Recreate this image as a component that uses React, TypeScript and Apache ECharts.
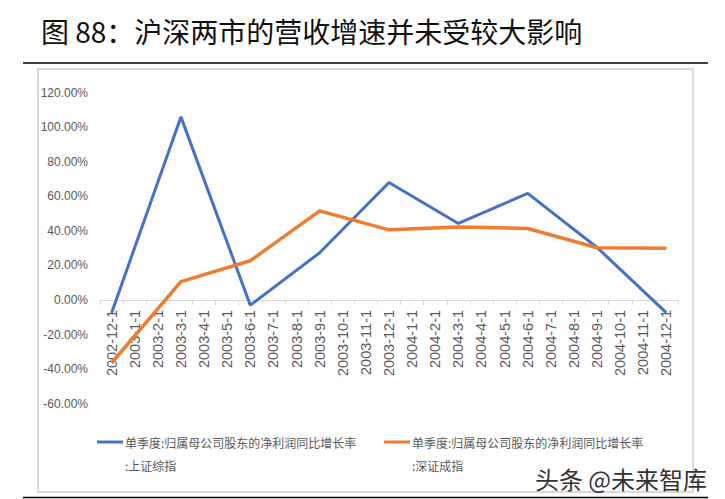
import React, { useEffect, useRef } from "react";
import * as echarts from "echarts";

const TITLE = "图 88：沪深两市的营收增速并未受较大影响";
const SERIES_NAMES = [
  "单季度:归属母公司股东的净利润同比增长率:上证综指",
  "单季度:归属母公司股东的净利润同比增长率:深证成指",
];
const LEGEND_LINE1 = "单季度:归属母公司股东的净利润同比增长率";
const LEGEND_LINE2 = [":上证综指", ":深证成指"];
const WATERMARK = "头条 @未来智库";

const categories = [
  "2002-12-1", "2003-1-1", "2003-2-1", "2003-3-1", "2003-4-1", "2003-5-1",
  "2003-6-1", "2003-7-1", "2003-8-1", "2003-9-1", "2003-10-1", "2003-11-1",
  "2003-12-1", "2004-1-1", "2004-2-1", "2004-3-1", "2004-4-1", "2004-5-1",
  "2004-6-1", "2004-7-1", "2004-8-1", "2004-9-1", "2004-10-1", "2004-11-1",
  "2004-12-1",
];

// values in percent; null = no observation for that month
const shIndex = [
  -7.5, null, null, 106.0, null, null,
  -3.0, null, null, 27.3, null, null,
  68.0, null, null, 44.3, null, null,
  61.7, null, null, 30.4, null, null,
  -7.5,
];
const szIndex = [
  -36.5, null, null, 10.6, null, null,
  22.7, null, null, 51.6, null, null,
  40.6, null, null, 42.2, null, null,
  41.4, null, null, 30.2, null, null,
  29.9,
];

const yMin = -60;
const yMax = 120;
const yStep = 20;

const BLUE = "#4472C4";
const ORANGE = "#ED7D31";
const GRAY_TEXT = "#595959";

const GRID_TOP = 92.7;
const GRID_BOTTOM = 95.4;
const CHART_H = 499;

export default function App() {
  const ref = useRef<HTMLDivElement>(null);
  useEffect(() => {
    if (!ref.current) return;
    const chart = echarts.init(ref.current, null, { renderer: "svg" });
    const plotH = CHART_H - GRID_TOP - GRID_BOTTOM;
    // move the category axis (line, ticks, labels) up to the zero level
    const zeroOffset = -((0 - yMin) / (yMax - yMin)) * plotH;
    const legendItems = [0, 1].map((i) => {
      const x0 = i === 0 ? 97 : 384;
      const color = i === 0 ? BLUE : ORANGE;
      return {
        type: "group",
        children: [
          {
            type: "line",
            shape: { x1: x0, y1: 442, x2: x0 + 26, y2: 442 },
            style: { stroke: color, lineWidth: 3 },
          },
          {
            type: "text",
            x: x0 + 28,
            y: 442,
            style: {
              text: LEGEND_LINE1,
              font: "12px 'Noto Sans CJK SC'",
              fill: GRAY_TEXT,
              verticalAlign: "middle",
            },
          },
          {
            type: "text",
            x: x0 + 28,
            y: 465,
            style: {
              text: LEGEND_LINE2[i],
              font: "12px 'Noto Sans CJK SC'",
              fill: GRAY_TEXT,
              verticalAlign: "middle",
            },
          },
        ],
      };
    });
    chart.setOption({
      animation: false,
      backgroundColor: "#ffffff",
      grid: { left: 100, right: 47, top: GRID_TOP, bottom: GRID_BOTTOM, containLabel: false },
      xAxis: {
        type: "category",
        data: categories,
        boundaryGap: true,
        offset: zeroOffset,
        axisLine: { onZero: false, lineStyle: { color: "#d9d9d9", width: 1 } },
        axisTick: { show: true, length: 5, lineStyle: { color: "#d9d9d9" } },
        axisLabel: {
          interval: 0,
          rotate: 90,
          margin: 10,
          color: GRAY_TEXT,
          fontSize: 14.5,
          fontFamily: "'Liberation Sans', Arial, sans-serif",
        },
        splitLine: { show: false },
      },
      yAxis: {
        type: "value",
        min: yMin,
        max: yMax,
        interval: yStep,
        axisLine: { show: false },
        axisTick: { show: false },
        splitLine: { show: false },
        axisLabel: {
          margin: 12,
          color: GRAY_TEXT,
          fontSize: 12,
          fontFamily: "'Liberation Sans', sans-serif",
          formatter: (v: number) => v.toFixed(2) + "%",
        },
      },
      series: [
        {
          name: SERIES_NAMES[0],
          type: "line",
          data: shIndex,
          connectNulls: true,
          showSymbol: false,
          symbol: "none",
          lineStyle: { color: BLUE, width: 3 },
          itemStyle: { color: BLUE },
          z: 2,
        },
        {
          name: SERIES_NAMES[1],
          type: "line",
          data: szIndex,
          connectNulls: true,
          showSymbol: false,
          symbol: "none",
          lineStyle: { color: ORANGE, width: 3.5 },
          itemStyle: { color: ORANGE },
          z: 3,
        },
      ],
      graphic: [
        {
          type: "text",
          x: 41,
          y: 31,
          style: {
            text: TITLE,
            font: "28px 'Noto Sans CJK SC'",
            fill: "#111111",
            verticalAlign: "middle",
          },
        },
        {
          type: "line",
          shape: { x1: 23, y1: 63, x2: 708, y2: 63 },
          style: { stroke: "#000000", lineWidth: 1.5 },
        },
        {
          type: "line",
          shape: { x1: 23, y1: 497.5, x2: 708, y2: 497.5 },
          style: { stroke: "#000000", lineWidth: 1.5 },
        },
        {
          type: "rect",
          shape: { x: 38, y: 69, width: 655, height: 423 },
          style: { fill: "none", stroke: "#d9d9d9", lineWidth: 2 },
          z: -1,
        },
        ...legendItems,
        {
          type: "text",
          x: 707,
          y: 478,
          style: {
            text: WATERMARK,
            font: "24px 'Noto Sans CJK SC'",
            fill: "#333333",
            align: "right",
            verticalAlign: "middle",
          },
        },
      ],
    });
    return () => chart.dispose();
  }, []);
  return (
    <div
      ref={ref}
      style={{ position: "absolute", left: 0, top: 0, width: 725, height: 499 }}
    />
  );
}
